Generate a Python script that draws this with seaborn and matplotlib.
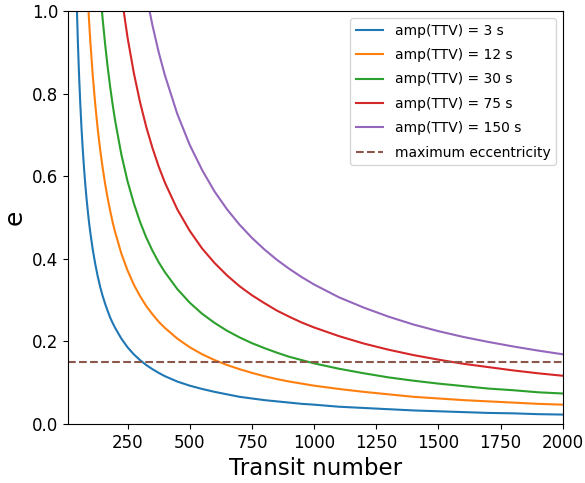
import numpy as np
import pandas as pd
import seaborn as sns
import matplotlib
matplotlib.use("Agg")
import matplotlib.pyplot as plt

# transit numbers sampled along the curves
transitNumber = [40, 45, 50, 55, 60, 65, 70, 75, 80, 85, 90, 95, 100, 110, 120, 130,
                 140, 150, 160, 170, 180, 190, 200, 225, 250, 275, 300, 325, 350, 375,
                 400, 450, 500, 550, 600, 650, 700, 750, 800, 850, 900, 950, 1000,
                 1100, 1200, 1300, 1400, 1500, 1600, 1700, 1800, 1900, 2000]

# eccentricity
eAmp3 = [1.163, 1.033, 0.930, 0.845, 0.775, 0.715, 0.664, 0.620, 0.581, 0.547, 0.517,
         0.489, 0.465, 0.423, 0.388, 0.358, 0.332, 0.310, 0.291, 0.274, 0.258, 0.245,
         0.233, 0.207, 0.186, 0.169, 0.155, 0.143, 0.133, 0.124, 0.116, 0.103, 0.093,
         0.085, 0.078, 0.072, 0.066, 0.062, 0.058, 0.055, 0.052, 0.049, 0.047, 0.042,
         0.039, 0.036, 0.033, 0.031, 0.029, 0.027, 0.026, 0.024, 0.023]
eAmp12 = [2.325, 2.067, 1.860, 1.691, 1.550, 1.431, 1.329, 1.240, 1.163, 1.094, 1.033,
          0.979, 0.930, 0.845, 0.775, 0.715, 0.664, 0.620, 0.581, 0.547, 0.517, 0.489,
          0.465, 0.413, 0.372, 0.338, 0.310, 0.286, 0.266, 0.248, 0.233, 0.207, 0.186,
          0.169, 0.155, 0.143, 0.133, 0.124, 0.116, 0.109, 0.103, 0.098, 0.093, 0.085,
          0.078, 0.072, 0.066, 0.062, 0.058, 0.055, 0.052, 0.049, 0.047]
eAmp30 = [3.675, 3.267, 2.940, 2.673, 2.450, 2.262, 2.100, 1.960, 1.838, 1.729, 1.633,
          1.547, 1.470, 1.336, 1.225, 1.131, 1.050, 0.980, 0.919, 0.865, 0.817, 0.774,
          0.735, 0.653, 0.588, 0.535, 0.490, 0.452, 0.420, 0.392, 0.368, 0.327, 0.294,
          0.267, 0.245, 0.226, 0.210, 0.196, 0.184, 0.173, 0.163, 0.155, 0.147, 0.134,
          0.123, 0.113, 0.105, 0.098, 0.092, 0.086, 0.082, 0.077, 0.074]
eAmp75 = [5.850, 5.200, 4.680, 4.255, 3.900, 3.600, 3.343, 3.120, 2.925, 2.753, 2.600,
          2.463, 2.340, 2.127, 1.950, 1.800, 1.671, 1.560, 1.463, 1.376, 1.300, 1.232,
          1.170, 1.040, 0.936, 0.851, 0.780, 0.720, 0.669, 0.624, 0.585, 0.520, 0.468,
          0.425, 0.390, 0.360, 0.334, 0.312, 0.293, 0.275, 0.260, 0.246, 0.234, 0.213,
          0.195, 0.180, 0.167, 0.156, 0.146, 0.138, 0.130, 0.123, 0.117]
eAmp150 = [8.450, 7.511, 6.760, 6.145, 5.633, 5.200, 4.829, 4.507, 4.225, 3.976, 3.756,
           3.558, 3.380, 3.073, 2.817, 2.600, 2.414, 2.253, 2.113, 1.988, 1.878, 1.779,
           1.690, 1.502, 1.352, 1.229, 1.127, 1.040, 0.966, 0.901, 0.845, 0.751, 0.676,
           0.615, 0.563, 0.520, 0.483, 0.451, 0.423, 0.398, 0.376, 0.356, 0.338, 0.307,
           0.282, 0.260, 0.241, 0.225, 0.211, 0.199, 0.188, 0.178, 0.169]

ampLabels = ["amp(TTV) = 3 s", "amp(TTV) = 12 s", "amp(TTV) = 30 s",
             "amp(TTV) = 75 s", "amp(TTV) = 150 s"]
maxEccentricity = 0.15

curves = [eAmp3, eAmp12, eAmp30, eAmp75, eAmp150]
frames = []
for label, values in zip(ampLabels, curves):
    frames.append(pd.DataFrame({"Transit number": transitNumber, "e": values, "amp": label}))
data = pd.concat(frames, ignore_index=True)

fig, ax = plt.subplots(figsize=(5.85, 4.83), dpi=100)
fig.subplots_adjust(left=0.116, right=0.962, top=0.977, bottom=0.122)

sns.lineplot(data=data, x="Transit number", y="e", hue="amp", hue_order=ampLabels,
             palette=sns.color_palette("tab10", 5), errorbar=None, linewidth=1.5, ax=ax)
ax.axhline(maxEccentricity, color="#8c564b", linestyle="--", linewidth=1.5,
           label="maximum eccentricity")

ax.set_xlim(10, 2000)
ax.set_ylim(0, 1)
ax.set_xticks([250, 500, 750, 1000, 1250, 1500, 1750, 2000])
ax.set_yticks([0.0, 0.2, 0.4, 0.6, 0.8, 1.0])
ax.tick_params(labelsize=12)
ax.set_xlabel("Transit number", fontsize=16.5)
ax.set_ylabel("e", fontsize=18)
ax.legend(loc="upper right", fontsize=10, labelspacing=0.75, handlelength=2.0)

fig.savefig("out.png", dpi=100)
